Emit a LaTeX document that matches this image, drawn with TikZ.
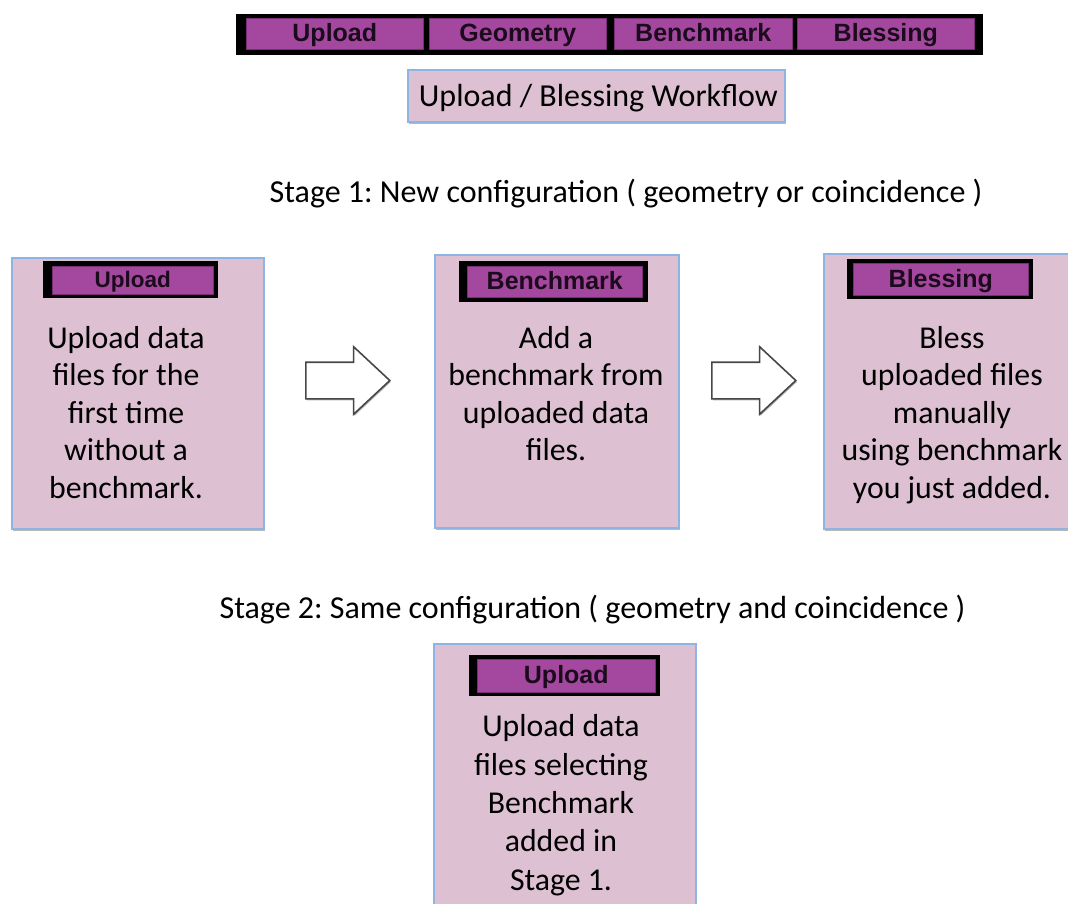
\documentclass[tikz,border=0pt]{standalone}
\usepackage{fontspec}
\setmainfont{Carlito}
\newfontfamily\tabfont{Liberation Sans}
\usetikzlibrary{shapes.arrows,shadows}
\frenchspacing

\definecolor{tabmag}{HTML}{A3489E}
\definecolor{tabedge}{HTML}{7A2E76}
\definecolor{tabink}{HTML}{1C0B1C}
\definecolor{panelfill}{HTML}{DDC1D3}
\definecolor{panelline}{HTML}{8EB4E3}
\definecolor{arrowline}{HTML}{474747}

\tikzset{
  softshadow/.style={drop shadow={shadow xshift=1.2pt, shadow yshift=-2pt, opacity=0.28, fill=black}},
  panel/.style={draw=panelline, line width=1.8pt, fill=panelfill, inner sep=0pt,
    anchor=north west, softshadow},
  % multi-line text is anchored on the baseline of its last line
  body/.style={align=center, inner sep=0pt, anchor=base,
    font=\fontsize{31.8}{37.5}\selectfont},
  stagetext/.style={inner sep=0pt, anchor=base, font=\fontsize{32}{37.5}\selectfont},
  hframe/.style={fill=black, inner sep=0pt, anchor=north west},
  hcell/.style={fill=tabmag, draw=tabedge, line width=0.6pt, inner sep=0pt,
    anchor=north west, text=tabink, text height=17.5pt, text depth=2pt,
    font=\tabfont\bfseries\fontsize{25}{25}\selectfont},
  blockarrow/.style={single arrow, draw=arrowline, fill=white, line width=1.6pt,
    inner xsep=0pt, inner ysep=17.5pt, minimum width=0pt, minimum height=84pt,
    single arrow head extend=15.5pt, single arrow tip angle=86, anchor=tail,
    drop shadow={shadow xshift=1pt, shadow yshift=-1.5pt, opacity=0.3, fill=black}}
}

\begin{document}
\begin{tikzpicture}[x=1pt,y=-1pt]
\clip (0,0) rectangle (1068,904);
\fill[white] (0,0) rectangle (1068,904);

% menu bar with the four workflow tabs
\node[hframe, minimum width=747pt, minimum height=41pt] (bar) at (236,14) {};
\node[hcell, minimum width=177pt, minimum height=31pt] (mUpload)    at (246,18) {Upload};
\node[hcell, minimum width=177pt, minimum height=31pt] (mGeometry)  at (429,18) {Geometry};
\node[hcell, minimum width=178pt, minimum height=31pt] (mBenchmark) at (614,18) {Benchmark};
\node[hcell, minimum width=177pt, minimum height=31pt] (mBlessing)  at (797,18) {Blessing};

% title
\node[panel, minimum width=377pt, minimum height=52pt,
      font=\fontsize{32}{37.5}\selectfont, text height=27pt, text depth=5pt] (title)
  at (407,69) {\hspace*{4pt}Upload / Blessing Workflow};

% stage 1
\node[stagetext] (stage1) at (626,203) {Stage 1: New configuration ( geometry or coincidence )};

\node[panel, minimum width=252pt, minimum height=271pt] (p1) at (11,257) {};
\node[hframe, minimum width=175pt, minimum height=37pt] (h1f) at (43,261) {};
\node[hcell, minimum width=161pt, minimum height=28pt, text height=16pt,
      font=\tabfont\bfseries\fontsize{22.5}{22.5}\selectfont] (h1) at (52,266) {Upload};
\node[body] (t1) at (126,498) {Upload data\\files for the\\first time\\without a\\benchmark.};

\node[blockarrow] (a1) at (305,380.5) {};

\node[panel, minimum width=244pt, minimum height=273pt] (p2) at (434,254) {};
\node[hframe, minimum width=189pt, minimum height=41pt] (h2f) at (459,261) {};
\node[hcell, minimum width=175pt, minimum height=31pt] (h2) at (467,266) {Benchmark};
\node[body] (t2) at (556,460.5) {Add a\\benchmark from\\uploaded data\\files.};

\node[blockarrow] (a2) at (711,380.5) {};

\node[panel, minimum width=250pt, minimum height=275pt] (p3) at (823,253) {};
\node[hframe, minimum width=186pt, minimum height=40pt] (h3f) at (847,259) {};
\node[hcell, minimum width=175pt, minimum height=32pt] (h3) at (853,263) {Blessing};
\node[body] (t3) at (952,498) {Bless\\uploaded files\\manually\\using benchmark\\you just added.};

% stage 2
\node[stagetext] (stage2) at (592.5,618) {Stage 2: Same configuration ( geometry and coincidence )};

\node[panel, minimum width=262pt, minimum height=270pt] (p4) at (433,643) {};
\node[hframe, minimum width=191pt, minimum height=41pt] (h4f) at (469,655) {};
\node[hcell, minimum width=178pt, minimum height=33pt] (h4) at (477,659) {Upload};
\node[body, font=\fontsize{31.8}{38.3}\selectfont] (t4) at (561,890) {Upload data\\files selecting\\Benchmark\\added in\\Stage 1.};
\end{tikzpicture}
\end{document}
